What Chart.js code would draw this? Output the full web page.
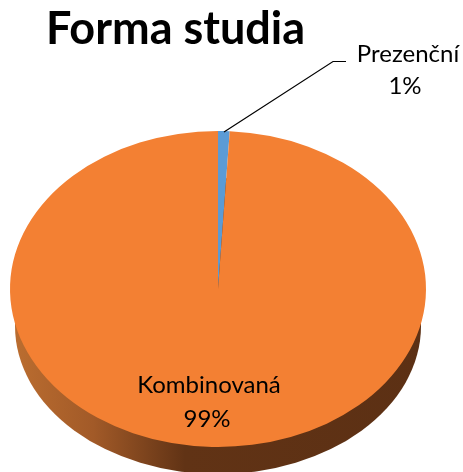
<!DOCTYPE html>
<html><head><meta charset="utf-8">
<style>html,body{margin:0;padding:0;background:#fff}canvas{display:block}</style>
<script src="https://cdn.jsdelivr.net/npm/chart.js@4"></script>
</head><body><canvas id="c" width="463" height="472"></canvas>
<script>
const titleText = "Forma studia";
const categories = ["Prezenční", "Kombinovaná"];
const shares = [0.9, 99.1];
const sliceColors = ["#5B9BD5", "#F38033"];

const squash = 158 / 208, centerY = 289;
const font = '"Lato", sans-serif';

function project(ctx, a) {
  ctx.translate(0, centerY);
  ctx.scale(1, squash);
  ctx.translate(0, -a.y);
}
const pie3d = {
  id: "pie3d",
  beforeDatasetsDraw(chart) {
    const ctx = chart.ctx, a = chart.getDatasetMeta(0).data[0];
    const g = ctx.createLinearGradient(a.x - a.outerRadius, 0, a.x + a.outerRadius, 0);
    g.addColorStop(0, "#BC6E30");
    g.addColorStop(0.2, "#A25A28");
    g.addColorStop(0.42, "#613315");
    g.addColorStop(1, "#5C3014");
    ctx.save();
    ctx.fillStyle = g;
    ctx.beginPath();
    ctx.ellipse(a.x, centerY + 37, a.outerRadius * 203 / 208, a.outerRadius * 148 / 208, 0, 0, Math.PI * 2);
    ctx.fill();
    ctx.restore();
    ctx.save();
    project(ctx, a);
  },
  afterDatasetsDraw(chart) {
    const ctx = chart.ctx, a = chart.getDatasetMeta(0).data[0];
    ctx.restore();
    ctx.save();
    ctx.fillStyle = "#000";
    ctx.textAlign = "center";
    ctx.textBaseline = "alphabetic";
    ctx.font = "bold 45px " + font;
    ctx.fillText(titleText, 175.5, 44);
    ctx.font = "24px " + font;
    const total = shares.reduce((s, v) => s + v, 0);
    const pct = v => Math.round(v / total * 100) + "%";
    ctx.fillText(categories[0], 408, 62);
    ctx.fillText(pct(shares[0]), 405, 94);
    ctx.fillText(categories[1], 209, 393);
    ctx.fillText(pct(shares[1]), 207, 427);
    const topY = centerY - a.outerRadius * squash;
    ctx.strokeStyle = "#000";
    ctx.lineWidth = 1.2;
    ctx.beginPath();
    ctx.moveTo(a.x + 6, topY + 1);
    ctx.lineTo(333, 61.5);
    ctx.lineTo(346, 61.5);
    ctx.stroke();
    ctx.restore();
  }
};

new Chart(document.getElementById("c"), {
  type: "pie",
  data: { labels: categories, datasets: [{ data: shares, backgroundColor: sliceColors, borderWidth: 0, clip: false }] },
  options: {
    responsive: false,
    animation: false,
    layout: { padding: { left: 10, right: 37, top: 28, bottom: 28 } },
    plugins: { legend: { display: false }, tooltip: { enabled: false } }
  },
  plugins: [pie3d]
});
</script></body></html>
